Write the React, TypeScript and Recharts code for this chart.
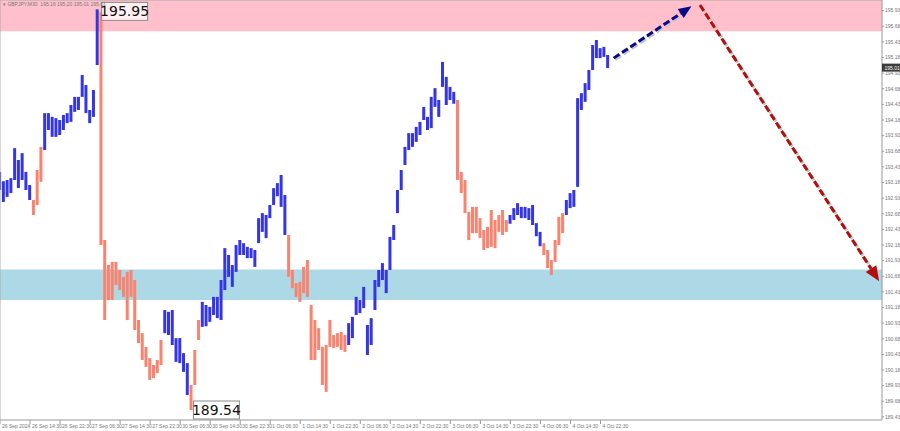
import React from "react";
import { Bar, Cell, ComposedChart, ReferenceArea, ReferenceDot, ReferenceLine, XAxis, YAxis } from "recharts";

// GBPJPY M30, one sampled bar every 2 half-hour slots
const highs = [
  193.35, 193.2, 193.22, 193.25, 193.73, 193.54, 193.65, 193.35, 193.14, 192.9,
  193.38, 193.75, 194.29, 194.29, 194.23, 194.21, 194.18, 194.26, 194.29, 194.42,
  194.55, 194.55, 194.9, 194.74, 194.34, 194.66, 195.95, 195.91, 192.26, 191.86,
  191.91, 191.91, 191.78, 191.67, 191.75, 191.78, 191.62, 190.98, 190.77, 190.55,
  190.37, 190.26, 190.34, 190.66, 191.14, 191.11, 191.14, 190.69, 190.69, 190.45,
  190.29, 189.94, 190.5, 190.98, 191.27, 191.22, 191.19, 191.35, 191.35, 191.62,
  192.13, 192.02, 191.86, 192.18, 192.26, 192.21, 192.15, 192.13, 192.1, 192.61,
  192.69, 192.66, 192.82, 193.09, 193.17, 193.3, 192.98, 192.34, 191.78, 191.57,
  191.59, 191.83, 191.94, 191.22, 190.98, 190.85, 190.55, 190.58, 190.98, 190.74,
  190.77, 190.79, 190.74, 190.93, 191.03, 191.35, 191.3, 191.51, 190.9, 191.01,
  191.62, 191.78, 191.89, 191.78, 192.31, 192.5, 193.06, 193.38, 193.75, 193.97,
  193.97, 194.07, 194.15, 194.39, 194.23, 194.55, 194.69, 194.5, 195.11, 194.87,
  194.71, 194.63, 194.5, 193.35, 193.22, 192.71, 192.79, 192.79, 192.61, 192.42,
  192.47, 192.74, 192.58, 192.66, 192.74, 192.58, 192.66, 192.77, 192.85, 192.79,
  192.79, 192.77, 192.82, 192.53, 192.39, 192.21, 192.1, 191.94, 192.26, 192.63,
  192.69, 192.9, 193.01, 193.06, 194.53, 194.61, 194.77, 194.98, 195.38, 195.46,
  195.33, 195.35, 195.22,
];

const lows = [
  193.06, 192.87, 192.95, 193.01, 193.22, 193.09, 193.22, 193.06, 192.9, 192.66,
  192.82, 193.19, 193.7, 194.02, 193.91, 193.91, 193.94, 194.02, 194.13, 194.15,
  194.31, 194.34, 194.55, 194.29, 194.13, 194.23, 195.06, 192.18, 190.98, 191.3,
  191.3, 191.54, 191.46, 191.35, 190.98, 191.35, 190.82, 190.61, 190.34, 190.23,
  190.02, 190.05, 190.13, 190.26, 190.77, 190.74, 190.58, 190.31, 190.29, 190.15,
  189.78, 189.54, 189.94, 190.66, 190.87, 190.88, 190.95, 191.06, 191.01, 190.98,
  191.46, 191.67, 191.51, 191.75, 192.02, 192.02, 191.97, 191.97, 191.83, 192.21,
  192.39, 192.29, 192.61, 192.82, 192.96, 192.79, 192.34, 191.67, 191.49, 191.35,
  191.27, 191.41, 191.35, 190.34, 190.34, 190.5, 189.94, 189.83, 190.55, 190.53,
  190.55, 190.5, 190.47, 190.58, 190.69, 191.06, 191.09, 191.17, 190.42, 190.58,
  191.14, 191.51, 191.62, 191.41, 191.78, 192.26, 192.69, 193.06, 193.46, 193.7,
  193.75, 193.83, 193.94, 194.18, 194.02, 194.05, 194.39, 194.23, 194.71, 194.42,
  194.5, 194.44, 193.22, 193.01, 192.69, 192.26, 192.37, 192.37, 192.29, 192.1,
  192.13, 192.15, 192.13, 192.39, 192.34, 192.39, 192.52, 192.58, 192.66, 192.61,
  192.61, 192.58, 192.5, 192.32, 192.16, 192.02, 191.81, 191.7, 191.91, 192.18,
  192.37, 192.66, 192.77, 192.79, 193.11, 194.34, 194.47, 194.66, 194.98, 195.17,
  195.17, 195.19, 195.01,
];

// wave segments: first bar of each wave and its direction
const waveStarts = [0, 9, 12, 27, 44, 51, 54, 77, 93, 122, 136, 145, 151];
const waveDirs = ["up", "down", "up", "down", "up", "down", "up", "down", "up", "down", "up", "down", "up"];

const timeLabels = [
  "26 Sep 2024", "26 Sep 14:30", "26 Sep 22:30", "27 Sep 06:30", "27 Sep 14:30", "27 Sep 22:30",
  "30 Sep 06:30", "30 Sep 14:30", "30 Sep 22:30", "1 Oct 06:30", "1 Oct 14:30", "1 Oct 22:30",
  "2 Oct 06:30", "2 Oct 14:30", "2 Oct 22:30", "3 Oct 06:30", "3 Oct 14:30", "3 Oct 22:30",
  "4 Oct 06:30", "4 Oct 14:30", "4 Oct 22:30",
];

const priceTicks = [
  189.43, 189.68, 189.93, 190.18, 190.43, 190.68, 190.93, 191.18, 191.43, 191.68,
  191.93, 192.18, 192.43, 192.68, 192.93, 193.18, 193.43, 193.68, 193.93, 194.18,
  194.43, 194.68, 194.93, 195.18, 195.43, 195.68, 195.93,
];

const resistanceZone = [195.6, 196.1];
const supportZone = [191.3, 191.79];
const waveHigh = 195.95;
const waveLow = 189.54;
const lastPrice = 195.01;
// projected path: up leg then down leg (slot index, price)
const upLeg = [{ x: 327, y: 195.17 }, { x: 368.5, y: 196.0 }];
const downLeg = [{ x: 373, y: 196.02 }, { x: 468.5, y: 191.6 }];

const BLUE = "#3535e8";
const SALMON = "#f9836f";
const SMALL_FONT = "Liberation Sans Narrow, Liberation Sans, sans-serif";

const dirOf = (i: number) => {
  let d = waveDirs[0];
  waveStarts.forEach((s, j) => {
    if (i >= s) d = waveDirs[j];
  });
  return d;
};

const data = highs.map((h, i) => ({ t: i * 2, range: [lows[i], h], dir: dirOf(i) }));

const TimeTick = (props: any) => {
  const { x, payload } = props;
  const label = timeLabels[Math.round(payload.value / 16)];
  return (
    <g>
      <line x1={x} y1={420} x2={x} y2={424} stroke="#999" />
      <text x={x + 2} y={427.5} fontSize={5} fill="#777" fontFamily={SMALL_FONT}>
        {label}
      </text>
    </g>
  );
};

const arrowShape = (color: string, headLen: number) => (props: any) => {
  const { x1, y1, x2, y2 } = props;
  const a = Math.atan2(y2 - y1, x2 - x1);
  const bx = x2 - headLen * Math.cos(a);
  const by = y2 - headLen * Math.sin(a);
  const half = headLen * 0.42;
  const px = -Math.sin(a) * half;
  const py = Math.cos(a) * half;
  return (
    <g>
      <line x1={x1 + 1.5} y1={y1 + 1.5} x2={bx + 1.5} y2={by + 1.5} stroke="#c4c4c4" strokeWidth={3} strokeDasharray="7 3" />
      <line x1={x1} y1={y1} x2={bx} y2={by} stroke={color} strokeWidth={3} strokeDasharray="7 3" />
      <polygon points={`${x2},${y2} ${bx + px},${by + py} ${bx - px},${by - py}`} fill={color} />
    </g>
  );
};

const PriceBox = ({ cx, cy, text, dx, dy }: any) => (
  <g>
    <rect x={cx + dx} y={cy + dy} width={46} height={18} fill="rgba(255,255,255,0.75)" stroke="#8a8a8a" />
    <text x={cx + dx + 23} y={cy + dy + 14} textAnchor="middle" fontSize={14} fontFamily="DejaVu Sans" fill="#111">
      {text}
    </text>
  </g>
);

export default function App() {
  return (
    <div style={{ position: "absolute", left: 0, top: 0, width: 900, height: 431, background: "#fff" }}>
      <ComposedChart width={900} height={431} data={data} margin={{ top: 0, right: 0, left: 0, bottom: 0 }}>
        <ReferenceArea y1={resistanceZone[0]} y2={resistanceZone[1]} fill="#ffc0cb" fillOpacity={1} stroke="none" ifOverflow="hidden" />
        <ReferenceArea y1={supportZone[0]} y2={supportZone[1]} fill="#add8e6" fillOpacity={1} stroke="none" />
        <XAxis
          type="number"
          dataKey="t"
          domain={[0, 470]}
          ticks={timeLabels.map((_, i) => i * 16)}
          tick={<TimeTick />}
          interval={0}
          tickLine={false}
          axisLine={{ stroke: "#999" }}
          height={11}
          allowDataOverflow
        />
        <YAxis
          orientation="right"
          domain={[189.38, 196.1]}
          ticks={priceTicks}
          tickFormatter={(v: number) => v.toFixed(2)}
          tick={{ fontSize: 5, fill: "#777", fontFamily: SMALL_FONT }}
          tickSize={2}
          tickMargin={1}
          axisLine={{ stroke: "#999" }}
          tickLine={{ stroke: "#999" }}
          width={18}
          allowDataOverflow
          interval={0}
        />
        <ReferenceLine x={0} stroke="#aaa" />
        <ReferenceLine y={196.1} stroke="#aaa" />
        <Bar dataKey="range" barSize={3} isAnimationActive={false}>
          {data.map((d, i) => (
            <Cell key={i} fill={d.dir === "up" ? BLUE : SALMON} />
          ))}
        </Bar>
        <ReferenceLine segment={upLeg} ifOverflow="visible" shape={arrowShape("#0b0b86", 13)} />
        <ReferenceLine segment={downLeg} ifOverflow="visible" shape={arrowShape("#b40f0f", 15)} />
        <ReferenceDot
          x={52}
          y={waveHigh}
          r={0}
          ifOverflow="visible"
          shape={(p: any) => <PriceBox cx={p.cx} cy={p.cy} text={waveHigh.toFixed(2)} dx={4} dy={-7} />}
        />
        <ReferenceDot
          x={102}
          y={waveLow}
          r={0}
          ifOverflow="visible"
          shape={(p: any) => <PriceBox cx={p.cx} cy={p.cy} text={waveLow.toFixed(2)} dx={2} dy={-9} />}
        />
        <ReferenceDot
          x={470}
          y={lastPrice}
          r={0}
          ifOverflow="visible"
          shape={(p: any) => (
            <g>
              <rect x={p.cx} y={p.cy - 4.5} width={18} height={8} fill="#3c3c3c" />
              <text x={p.cx + 2.5} y={p.cy + 1.8} fontSize={5} fill="#fff" fontFamily={SMALL_FONT}>
                {lastPrice.toFixed(2)}
              </text>
            </g>
          )}
        />
      </ComposedChart>
      <div
        style={{
          position: "absolute",
          left: 3,
          top: 1,
          fontSize: 5,
          color: "#777",
          fontFamily: SMALL_FONT,
          whiteSpace: "pre",
        }}
      >
        {"▾ GBPJPY,M30  195.16 195.20 195.01 195.01"}
      </div>
    </div>
  );
}
